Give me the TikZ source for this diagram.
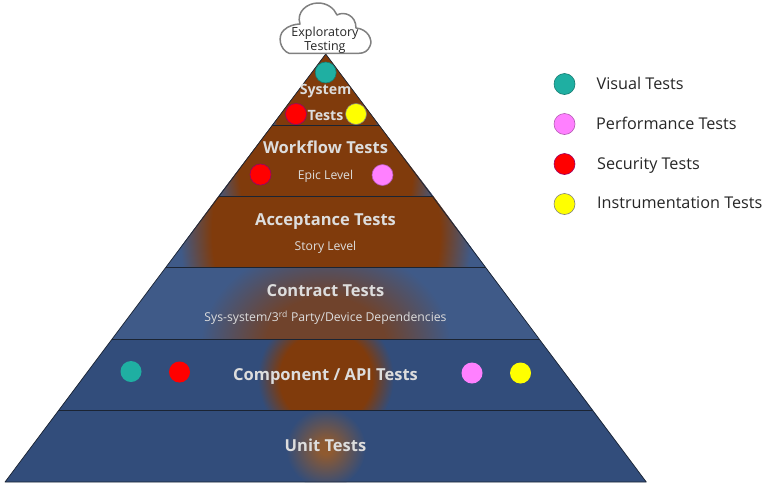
\documentclass[tikz,border=0pt]{standalone}
\usepackage{fontspec}
\setmainfont{Open Sans}
\definecolor{pbrown}{HTML}{803B0C}
\definecolor{pblue}{HTML}{324D7B}
\definecolor{pblueL}{HTML}{3F5A88}
\definecolor{pmix}{HTML}{70432C}
\definecolor{punit}{HTML}{8F5A30}
\definecolor{pteal}{HTML}{1FAFA2}
\definecolor{ppink}{HTML}{FF80FF}
\definecolor{pred}{HTML}{FF0000}
\definecolor{pyell}{HTML}{FFFF00}
\definecolor{plabel}{HTML}{DDDDDD}
\definecolor{pline}{HTML}{1B2433}
\pgfdeclareradialshading{glowwide}{\pgfpointorigin}{color(0bp)=(pbrown); color(19.5bp)=(pbrown); color(25bp)=(pblueL); color(50bp)=(pblueL)}
\pgfdeclareradialshading{glowedge}{\pgfpointorigin}{color(0bp)=(pbrown); color(23bp)=(pbrown); color(25bp)=(pblueL); color(50bp)=(pblueL)}
\pgfdeclareradialshading{glowmix}{\pgfpointorigin}{color(0bp)=(pmix); color(12bp)=(pmix); color(25bp)=(pblueL); color(50bp)=(pblueL)}
\pgfdeclareradialshading{glowcomp}{\pgfpointorigin}{color(0bp)=(pbrown); color(17bp)=(pbrown); color(25bp)=(pblue); color(50bp)=(pblue)}
\pgfdeclareradialshading{glowunit}{\pgfpointorigin}{color(0bp)=(punit); color(4bp)=(punit); color(25bp)=(pblue); color(50bp)=(pblue)}
\tikzset{
  x=1pt,y=-1pt,
  dotedge/.style={circle,inner sep=0pt,minimum size=21pt,draw=#1,line width=.6pt},
  dotedge/.default=gray,
  tealdot/.style={dotedge=pteal!70!black,fill=pteal},
  pinkdot/.style={dotedge=ppink!70!black,fill=ppink},
  reddot/.style={dotedge=red!60!blue,fill=pred},
  yelldot/.style={dotedge=gray,fill=pyell},
  flatdot/.style={circle,inner sep=0pt,minimum size=21pt,fill=#1},
  head/.style={text=plabel,font=\fontsize{16.5}{18}\selectfont\bfseries,inner sep=0pt,anchor=base},
  headsmall/.style={text=plabel,font=\fontsize{14.2}{16}\selectfont\bfseries,inner sep=0pt,anchor=base},
  sub/.style={text=plabel,font=\fontsize{12.2}{14}\selectfont,inner sep=0pt,anchor=base},
  legend/.style={text=black!85,font=\fontsize{16.2}{18}\selectfont,inner sep=0pt,anchor=base west},
  cloudtext/.style={text=black!85,font=\fontsize{12.5}{14}\selectfont,inner sep=0pt,anchor=base},
  sep/.style={draw=pline,line width=.9pt},
}
\begin{document}
\begin{tikzpicture}
\useasboundingbox (0,0) rectangle (762,483);
\coordinate (ap) at (325.7,54);
\coordinate (l1) at (272.3,125); \coordinate (r1) at (379.1,125);
\coordinate (l2) at (218.5,196); \coordinate (r2) at (433.2,196);
\coordinate (l3) at (166,267);   \coordinate (r3) at (485.6,267);
\coordinate (l4) at (112,339);   \coordinate (r4) at (539.2,339);
\coordinate (l5) at (58.8,410);  \coordinate (r5) at (592.8,410);
\coordinate (l6) at (5,482);     \coordinate (r6) at (646.3,482);
% layer: system
\begin{scope}
  \clip (ap) -- (r1) -- (l1) -- cycle;
  \fill[pblueL] (250,50) rectangle (400,130);
  \shade[shading=glowedge] (325.7,95) ellipse [x radius=55,y radius=120];
\end{scope}
% layer: workflow
\begin{scope}
  \clip (l1) -- (r1) -- (r2) -- (l2) -- cycle;
  \fill[pblueL] (200,120) rectangle (450,200);
  \shade[shading=glowwide] (325.7,160) ellipse [x radius=112,y radius=170];
\end{scope}
% layer: acceptance
\begin{scope}
  \clip (l2) -- (r2) -- (r3) -- (l3) -- cycle;
  \fill[pblueL] (150,190) rectangle (500,270);
  \shade[shading=glowwide] (325.7,232) ellipse [x radius=146,y radius=180];
\end{scope}
% layer: contract
\begin{scope}
  \clip (l3) -- (r3) -- (r4) -- (l4) -- cycle;
  \fill[pblueL] (100,260) rectangle (550,345);
  \shade[shading=glowmix] (325.7,345) ellipse [x radius=125,y radius=100];
\end{scope}
% layer: component
\begin{scope}
  \clip (l4) -- (r4) -- (r5) -- (l5) -- cycle;
  \fill[pblue] (50,335) rectangle (600,415);
  \shade[shading=glowcomp] (325.7,378) circle [radius=68];
\end{scope}
% layer: unit
\begin{scope}
  \clip (l5) -- (r5) -- (r6) -- (l6) -- cycle;
  \fill[pblue] (0,405) rectangle (650,485);
  \shade[shading=glowunit] (325.7,448) circle [radius=40];
\end{scope}
% outline and separators
\draw[pline,line width=.7pt,line join=round] (ap) -- (r6) -- (l6) -- cycle;
\draw[sep] (l1) -- (r1);
\draw[sep] (l2) -- (r2);
\draw[sep] (l3) -- (r3);
\draw[sep] (l4) -- (r4);
\draw[sep] (l5) -- (r5);
% cloud
\draw[draw=black!50,fill=white,line width=1.5pt,line join=round]
  (289,53.3)
  .. controls (280,50) and (277,36) .. (284,30)
  .. controls (288,26) and (295,24) .. (300,24)
  .. controls (296,12) and (307,3) .. (318,3)
  .. controls (327,3) and (334,8) .. (337,15)
  .. controls (344,11) and (356,15) .. (356,28)
  .. controls (368,29) and (373,40) .. (370,46)
  .. controls (368,51) and (364,53.3) .. (359,53.3)
  -- cycle;
\node[cloudtext] (c1) at (325,36) {Exploratory};
\node[cloudtext] (c2) at (325,50) {Testing};
% labels
\node[headsmall] (t1) at (325.5,94.3) {System};
\node[headsmall] (t2) at (325.5,120) {Tests};
\node[head] (t3) at (325.5,153.7) {Workflow Tests};
\node[sub]  (t4) at (325.5,179.3) {Epic Level};
\node[head] (t5) at (325.5,225) {Acceptance Tests};
\node[sub]  (t6) at (325.5,250.7) {Story Level};
\node[head] (t7) at (325.5,296.7) {Contract Tests};
\node[sub]  (t8) at (325.5,321.7) {Sys-system/3\textsuperscript{rd} Party/Device Dependencies};
\node[head] (t9) at (325.5,380) {Component / API Tests};
\node[head] (t10) at (325.5,451) {Unit Tests};
% markers
\node[tealdot] (d1) at (325.7,72.5) {};
\node[reddot]  (d2) at (296,114) {};
\node[yelldot] (d3) at (356,114) {};
\node[reddot]  (d4) at (260.5,174.5) {};
\node[pinkdot] (d5) at (382.5,175) {};
\node[flatdot=pteal] (d6) at (131,371.5) {};
\node[flatdot=pred] (d7) at (179.5,372) {};
\node[flatdot=ppink] (d8) at (472,373) {};
\node[flatdot=pyell] (d9) at (520.5,373) {};
% legend
\node[tealdot] (k1) at (564.5,84) {};
\node[pinkdot] (k2) at (564.5,124) {};
\node[reddot]  (k3) at (564.5,164) {};
\node[yelldot] (k4) at (564.5,204) {};
\node[legend] (g1) at (596.5,89.3) {Visual Tests};
\node[legend] (g2) at (596,129) {Performance Tests};
\node[legend] (g3) at (597,169.3) {Security Tests};
\node[legend] (g4) at (597,208.7) {Instrumentation Tests};
\end{tikzpicture}
\end{document}
